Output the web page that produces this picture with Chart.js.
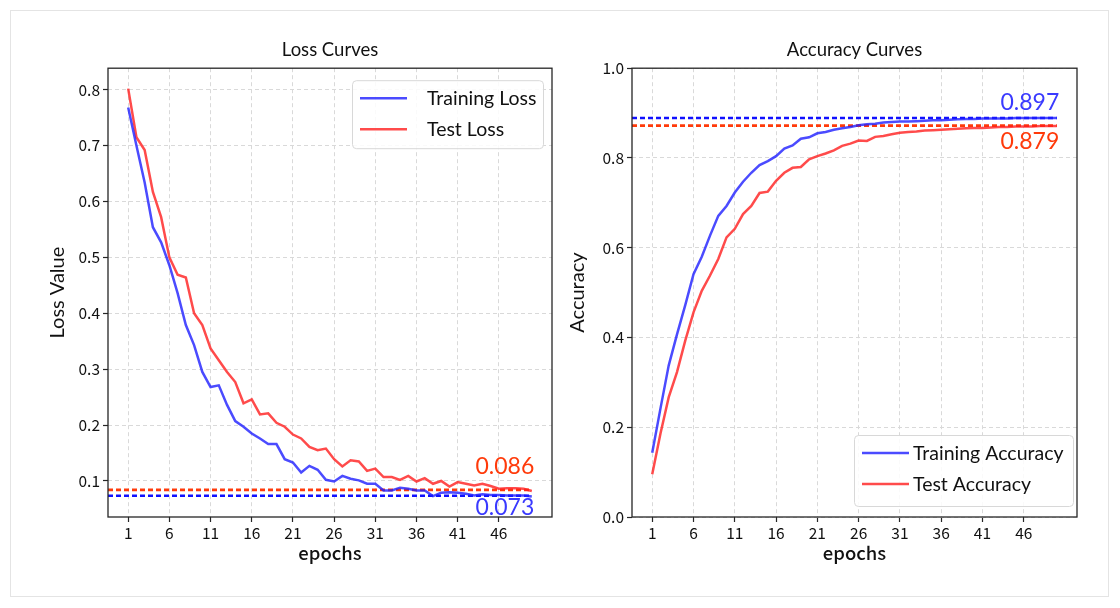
<!DOCTYPE html>
<html><head><meta charset="utf-8">
<script src="https://cdn.jsdelivr.net/npm/chart.js@4.4.1/dist/chart.umd.min.js"></script>
<style>
html,body{margin:0;padding:0;background:#fff;}
#wrap{position:relative;width:1120px;height:608px;overflow:hidden;background:#fff;}
#frame{position:absolute;left:10px;top:10px;width:1099px;height:587px;border:1px solid #e4e4e4;box-sizing:border-box;}
.c{position:absolute;top:0;height:608px;width:560px;}
</style></head><body>
<div id="wrap"><div id="frame"></div>
<div class="c" style="left:0"><canvas id="loss"></canvas></div>
<div class="c" style="left:560px"><canvas id="acc"></canvas></div>
</div>
<script>
const epochs = [1,2,3,4,5,6,7,8,9,10,11,12,13,14,15,16,17,18,19,20,21,22,23,24,25,26,27,28,29,30,31,32,33,34,35,36,37,38,39,40,41,42,43,44,45,46,47,48,49,50];
const xTickValues = [1,6,11,16,21,26,31,36,41,46];
const lossTickValues = [0.1,0.2,0.3,0.4,0.5,0.6,0.7,0.8];
const accTickValues = [0,0.2,0.4,0.6,0.8,1.0];

const trainLoss = [0.768,0.700,0.634,0.554,0.527,0.486,0.436,0.379,0.343,0.295,0.268,0.271,0.236,0.207,0.197,0.185,0.176,0.166,0.166,0.139,0.133,0.115,0.127,0.120,0.102,0.099,0.109,0.104,0.101,0.095,0.095,0.083,0.083,0.088,0.086,0.083,0.083,0.073,0.079,0.080,0.079,0.077,0.074,0.076,0.075,0.075,0.074,0.074,0.074,0.072];
const testLoss = [0.802,0.715,0.692,0.617,0.572,0.500,0.469,0.464,0.400,0.379,0.337,0.316,0.295,0.277,0.239,0.246,0.219,0.221,0.204,0.197,0.183,0.176,0.161,0.155,0.158,0.139,0.126,0.137,0.135,0.118,0.122,0.107,0.107,0.102,0.109,0.099,0.105,0.095,0.100,0.090,0.098,0.095,0.092,0.095,0.091,0.086,0.087,0.087,0.086,0.082];
const trainAcc = [0.143,0.242,0.338,0.407,0.472,0.541,0.580,0.627,0.671,0.693,0.723,0.747,0.767,0.784,0.793,0.804,0.821,0.828,0.843,0.846,0.855,0.858,0.863,0.866,0.869,0.873,0.875,0.876,0.879,0.880,0.881,0.881,0.882,0.883,0.884,0.884,0.885,0.886,0.887,0.887,0.888,0.888,0.888,0.888,0.889,0.889,0.889,0.889,0.889,0.889];
const testAcc = [0.095,0.186,0.267,0.323,0.393,0.456,0.504,0.538,0.575,0.623,0.642,0.675,0.693,0.722,0.725,0.749,0.767,0.778,0.780,0.797,0.804,0.810,0.817,0.827,0.832,0.839,0.838,0.847,0.849,0.853,0.856,0.858,0.859,0.861,0.862,0.863,0.864,0.865,0.866,0.867,0.867,0.868,0.869,0.869,0.870,0.870,0.870,0.871,0.871,0.871];

const lossRefValues = [0.0735, 0.084];   // train, test reference lines
const lossRefLabels = ['0.073', '0.086'];
const accRefValues = [0.889, 0.872];
const accRefLabels = ['0.897', '0.879'];

const X_MIN = -1.45, X_MAX = 52.45;
const BLUE = 'rgba(30,30,255,0.8)';
const RED = 'rgba(255,30,30,0.8)';
const DBLUE = '#1010ff';
const DRED = '#ff3a0a';
const TICKFONT = {family: '"Noto Sans CJK JP", "Noto Sans", sans-serif', size: 15.5};
const TXT = 'Lato, "Open Sans", sans-serif';

function pts(arr){ return arr.map((v,i)=>({x: epochs[i], y: v})); }
function hline(v){ return [{x: X_MIN, y: v}, {x: epochs[epochs.length-1], y: v}]; }

const extras = {
  id: 'extras',
  afterDraw(chart, args, o) {
    const {ctx, chartArea: a, scales} = chart;
    ctx.save();
    // spines
    ctx.strokeStyle = '#262626'; ctx.lineWidth = 1.3;
    ctx.strokeRect(a.left, a.top, a.right - a.left, a.bottom - a.top);
    // annotations
    ctx.font = '23px ' + TXT;
    ctx.textAlign = 'right'; ctx.textBaseline = 'middle';
    o.notes.forEach(n => {
      ctx.fillStyle = n.color;
      ctx.fillText(n.text, scales.x.getPixelForValue(n.x), scales.y.getPixelForValue(n.y) + n.dy);
    });
    // legend
    const L = o.legend;
    const bx = L.fromRight ? a.right - L.right - L.w : a.left + L.left;
    const by = L.fromBottom ? a.bottom - L.bottom - L.h : a.top + L.top;
    ctx.fillStyle = 'rgba(255,255,255,0.85)';
    ctx.strokeStyle = '#d8d8d8'; ctx.lineWidth = 1;
    ctx.beginPath();
    ctx.roundRect(bx + 0.5, by + 0.5, L.w, L.h, 4);
    ctx.fill(); ctx.stroke();
    ctx.font = '19.5px ' + TXT;
    ctx.textAlign = 'left'; ctx.textBaseline = 'middle';
    L.items.forEach((di, k) => {
      const ds = chart.data.datasets[di];
      const y = by + 18 + k * 31;
      ctx.strokeStyle = ds.borderColor; ctx.lineWidth = 2.5;
      ctx.beginPath(); ctx.moveTo(bx + 8, y); ctx.lineTo(bx + 55, y); ctx.stroke();
      ctx.fillStyle = '#111';
      ctx.fillText(ds.label, bx + L.textX, y + 1);
    });
    ctx.restore();
  }
};

function makeChart(id, cfg) {
  return new Chart(document.getElementById(id), {
    type: 'line',
    data: {
      datasets: [
        {label: cfg.labels[0], data: pts(cfg.train), borderColor: BLUE, borderWidth: 2.5, pointRadius: 0, tension: 0},
        {label: cfg.labels[1], data: pts(cfg.test), borderColor: RED, borderWidth: 2.5, pointRadius: 0, tension: 0},
        {label: 'ref-train', data: hline(cfg.ref[0]), borderColor: DBLUE, borderWidth: 2.7, borderDash: [5,3], pointRadius: 0},
        {label: 'ref-test', data: hline(cfg.ref[1]), borderColor: DRED, borderWidth: 2.7, borderDash: [5,3], pointRadius: 0}
      ]
    },
    options: {
      responsive: true, maintainAspectRatio: false, animation: false,
      layout: {padding: cfg.pad},
      plugins: {
        legend: {display: false}, tooltip: {enabled: false},
        title: {display: true, text: cfg.title, fullSize: false, color: '#111',
          font: {family: TXT, size: 18.5, weight: 'normal'}, padding: {top: 0, bottom: 7}},
        extras: {notes: cfg.notes, legend: cfg.legend}
      },
      scales: {
        x: {
          type: 'linear', min: X_MIN, max: X_MAX,
          afterBuildTicks: s => { s.ticks = xTickValues.map(v => ({value: v})); },
          afterFit: s => { s.height = cfg.xh; },
          ticks: {color: '#111', font: TICKFONT, padding: 2, maxRotation: 0, autoSkip: false, callback: v => String(v)},
          grid: {color: '#d9d9d9', lineWidth: 1, tickColor: '#262626', tickLength: 5, tickWidth: 1.2, tickBorderDash: []},
          border: {display: false, dash: [4,3]},
          title: {display: true, text: 'epochs', color: '#111', font: {family: TICKFONT.family, size: 18.5, weight: '500'}, padding: {top: 0, bottom: 4}}
        },
        y: {
          min: cfg.ymin, max: cfg.ymax,
          afterBuildTicks: s => { s.ticks = cfg.yticks.map(v => ({value: v})); },
          afterFit: s => { s.width = cfg.yw; },
          ticks: {color: '#111', font: TICKFONT, padding: 3, callback: v => v.toFixed(1)},
          grid: {color: '#d9d9d9', lineWidth: 1, tickColor: '#262626', tickLength: 5, tickWidth: 1.2, tickBorderDash: []},
          border: {display: false, dash: [4,3]},
          title: {display: true, text: cfg.ytitle, color: '#111', font: {family: TXT, size: 20, weight: 'normal'}, padding: {top: 3, bottom: 4}}
        }
      }
    },
    plugins: [extras]
  });
}

makeChart('loss', {
  title: 'Loss Curves', ytitle: 'Loss Value', labels: ['Training Loss', 'Test Loss'],
  train: trainLoss, test: testLoss, ref: lossRefValues,
  ymin: 0.0355, ymax: 0.8385, yticks: lossTickValues,
  pad: {left: 43, right: 8, top: 39, bottom: 40}, yw: 65, xh: 51,
  notes: [
    {text: lossRefLabels[1], color: DRED, x: 50.3, y: lossRefValues[1], dy: -23},
    {text: lossRefLabels[0], color: '#3a3aff', x: 50.3, y: lossRefValues[0], dy: 12}
  ],
  legend: {fromRight: true, right: 9, top: 12, w: 191, h: 68, textX: 75, items: [0, 1]}
});

makeChart('acc', {
  title: 'Accuracy Curves', ytitle: 'Accuracy', labels: ['Training Accuracy', 'Test Accuracy'],
  train: trainAcc, test: testAcc, ref: accRefValues,
  ymin: 0, ymax: 1, yticks: accTickValues,
  pad: {left: 2.4, right: 43, top: 39, bottom: 40}, yw: 69.6, xh: 51,
  notes: [
    {text: accRefLabels[0], color: '#3a3aff', x: 50.3, y: accRefValues[0], dy: -15},
    {text: accRefLabels[1], color: DRED, x: 50.3, y: accRefValues[1], dy: 16}
  ],
  legend: {fromRight: true, fromBottom: true, right: 4, bottom: 11, w: 219, h: 71, textX: 59, items: [0, 1]}
});
</script>
</body></html>
